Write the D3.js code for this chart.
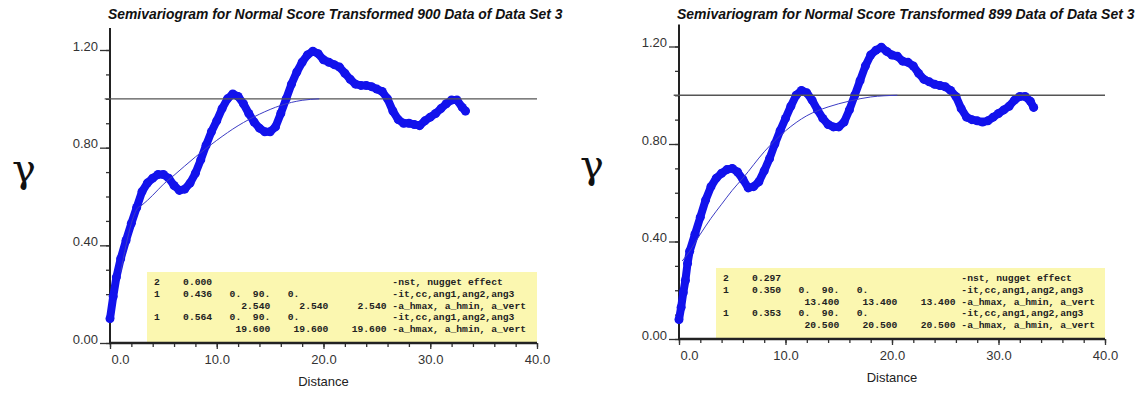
<!DOCTYPE html>
<html>
<head>
<meta charset="utf-8">
<script src="https://cdn.jsdelivr.net/npm/d3@7"></script>
<style>
body { margin: 0; background: #fff; }
</style>
</head>
<body>
<script>
var expLeft = [[0,0.10],[0.3,0.19],[0.6,0.27],[1,0.345],[1.5,0.42],[2,0.49],[2.5,0.555],[3,0.62],[3.5,0.655],[4,0.675],
  [4.5,0.69],[5,0.69],[5.5,0.675],[6,0.645],[6.5,0.625],[7,0.63],[7.5,0.655],[8,0.695],[8.5,0.75],[9,0.81],
  [9.5,0.865],[10,0.91],[10.5,0.96],[11,1.00],[11.5,1.02],[12,1.01],[12.5,0.98],[13,0.94],[13.5,0.905],[14,0.88],
  [14.5,0.865],[15,0.865],[15.5,0.885],[16,0.94],[16.5,1.00],[17,1.06],[17.5,1.11],[18,1.15],[18.5,1.18],[19,1.195],
  [19.5,1.185],[20,1.16],[20.5,1.15],[21,1.14],[21.5,1.13],[22,1.105],[22.5,1.08],[23,1.06],[23.5,1.055],[24,1.055],
  [24.5,1.05],[25,1.04],[25.5,1.03],[26,1.00],[26.5,0.95],[27,0.915],[27.5,0.90],[28,0.90],[28.5,0.895],[29,0.89],
  [29.5,0.91],[30,0.925],[30.5,0.94],[31,0.96],[31.5,0.98],[32,0.995],[32.5,0.995],[33,0.965],[33.3,0.95]];

var expRight = [[0,0.08],[0.2,0.13],[0.4,0.19],[0.6,0.24],[0.8,0.31],[1,0.36],[1.5,0.43],[2,0.50],[2.5,0.57],[3,0.625],
  [3.5,0.66],[4,0.68],[4.5,0.695],[5,0.70],[5.5,0.685],[6,0.655],[6.5,0.62],[7,0.625],[7.5,0.645],[8,0.69],
  [8.5,0.74],[9,0.80],[9.5,0.855],[10,0.905],[10.5,0.955],[11,1.00],[11.5,1.02],[12,1.01],[12.5,0.98],[13,0.94],
  [13.5,0.905],[14,0.88],[14.5,0.87],[15,0.87],[15.5,0.89],[16,0.94],[16.5,1.00],[17,1.06],[17.5,1.12],[18,1.165],
  [18.5,1.185],[19,1.197],[19.5,1.18],[20,1.165],[20.5,1.16],[21,1.14],[21.5,1.135],[22,1.12],[22.5,1.09],[23,1.065],
  [23.5,1.055],[24,1.045],[24.5,1.04],[25,1.035],[25.5,1.02],[26,0.995],[26.5,0.945],[27,0.91],[27.5,0.90],[28,0.895],
  [28.5,0.89],[29,0.895],[29.5,0.91],[30,0.925],[30.5,0.94],[31,0.955],[31.5,0.98],[32,0.995],[32.5,0.995],[33,0.975],
  [33.3,0.95]];

// fitted model curves
var modelLeft = [[1,0.29],[1.5,0.40],[2,0.49],[2.54,0.55],[3,0.565],[4,0.605],[5,0.65],[6,0.687],
  [8,0.762],[10,0.83],[12,0.89],[14,0.937],[16,0.973],[18,0.994],[19.6,1.0]];
var modelRight = [[0.3,0.32],[1,0.36],[2,0.43],[3,0.495],[4,0.553],[5,0.61],[6,0.66],[8,0.768],[10,0.854],[12,0.916],
  [14,0.952],[16,0.976],[18,0.993],[20.5,1.0]];

var sill = 1.0;

// model parameter tables: nst, nugget, then per structure it, cc, angles, ranges
var nstLeft = 2, nuggetLeft = 0.000;
var itLeft = [1, 1], ccLeft = [0.436, 0.564], rangeLeft = [2.540, 19.600];
var nstRight = 2, nuggetRight = 0.297;
var itRight = [1, 1], ccRight = [0.350, 0.353], rangeRight = [13.400, 20.500];
var angles = ["0.", "90.", "0."];

var xMajor = [0, 10, 20, 30, 40];
var xLabels = ["0.0", "10.0", "20.0", "30.0", "40.0"];
var yMajor = [0, 0.4, 0.8, 1.2];
var yLabels = ["0.00", "0.40", "0.80", "1.20"];

var titleLeft = "Semivariogram for Normal Score Transformed 900 Data of Data Set 3";
var titleRight = "Semivariogram for Normal Score Transformed 899 Data of Data Set 3";

var svg = d3.select("body").append("svg")
  .attr("width", 1146)
  .attr("height", 394);

// put strings into a fixed-width line
function fixedLine(fields) {
  var s = "";
  fields.forEach(function(f) {
    var col = f[2] ? f[0] - f[1].length + 1 : f[0]; // f[2]: right aligned at col
    while (s.length < col) s += " ";
    s += f[1];
  });
  return s;
}

function tableLines(nst, nugget, it, cc, ranges) {
  var lines = [];
  lines.push(fixedLine([[0, String(nst)], [9, nugget.toFixed(3), true], [41, "-nst, nugget effect"]]));
  for (var i = 0; i < it.length; i++) {
    lines.push(fixedLine([[0, String(it[i])], [9, cc[i].toFixed(3), true],
      [13, angles[0]], [17, angles[1]], [23, angles[2]], [41, "-it,cc,ang1,ang2,ang3"]]));
    var r = ranges[i].toFixed(3);
    lines.push(fixedLine([[19, r, true], [29, r, true], [39, r, true], [41, "-a_hmax, a_hmin, a_vert"]]));
  }
  return lines;
}

function drawPanel(p) {
  var g = svg.append("g");

  var x = d3.scaleLinear().domain([0, 40]).range([p.left, p.right]);
  var y = d3.scaleLinear().domain([0, 1.2]).range([p.bottom, p.top]);

  // title
  var t = g.append("text")
    .attr("x", p.left - 2)
    .attr("y", 19)
    .style("font-family", "Liberation Sans, Arial, sans-serif")
    .style("font-weight", "bold")
    .style("font-style", "italic")
    .style("font-size", "12px")
    .attr("fill", "#111")
    .text(p.title);
  var len = t.node().getComputedTextLength();
  t.style("font-size", (12 * p.titleWidth / len) + "px");

  // model parameter box
  var boxTop = p.bottom - 71;
  g.append("rect")
    .attr("x", p.left + 37)
    .attr("y", boxTop)
    .attr("width", x(40) - p.left - 37)
    .attr("height", 71)
    .attr("fill", "#fbf7b0");

  g.append("g").selectAll("text")
    .data(p.lines)
    .enter()
    .append("text")
    .attr("x", p.left + 44)
    .attr("y", function(d, i) { return boxTop + 13 + i * 11.8; })
    .style("white-space", "pre")
    .style("font-family", "Liberation Mono, Courier New, monospace")
    .style("font-weight", "bold")
    .style("font-size", "9.7px")
    .attr("fill", "#222")
    .text(function(d) { return d; });

  // y axis: minor ticks, then labelled ticks
  g.append("g")
    .attr("transform", "translate(" + p.left + ",0)")
    .call(d3.axisLeft(y).tickValues(d3.range(0, 1.25, 0.1)).tickSize(4).tickSizeOuter(0).tickFormat(""))
    .call(function(a) { a.select(".domain").remove(); });

  var ya = g.append("g")
    .attr("transform", "translate(" + p.left + ",0)")
    .call(d3.axisLeft(y).tickValues(yMajor).tickSize(10).tickSizeOuter(0).tickPadding(2)
      .tickFormat(function(d, i) { return yLabels[i]; }));
  ya.select(".domain").remove();
  ya.selectAll("text")
    .attr("dy", "0")
    .style("font-family", "Liberation Sans, Arial, sans-serif")
    .style("font-size", "13px")
    .attr("fill", "#333");
  g.selectAll(".tick line").attr("stroke", "#333").attr("stroke-width", 1.3);

  g.append("line")
    .attr("x1", p.left).attr("x2", p.left)
    .attr("y1", y(0)).attr("y2", y(1.29))
    .attr("stroke", "#222")
    .attr("stroke-width", 2);

  // x axis
  g.append("g")
    .attr("transform", "translate(0," + p.bottom + ")")
    .call(d3.axisBottom(x).tickValues(d3.range(0, 41, 2)).tickSize(4).tickSizeOuter(0).tickFormat(""))
    .call(function(a) { a.select(".domain").remove(); a.selectAll("line").attr("stroke", "#333").attr("stroke-width", 1.3); });

  var xa = g.append("g")
    .attr("transform", "translate(0," + p.bottom + ")")
    .call(d3.axisBottom(x).tickValues(xMajor).tickSize(6).tickSizeOuter(0).tickPadding(6)
      .tickFormat(function(d, i) { return xLabels[i]; }));
  xa.select(".domain").remove();
  xa.selectAll("line").attr("stroke", "#333").attr("stroke-width", 1.3);
  xa.selectAll("text")
    .style("font-family", "Liberation Sans, Arial, sans-serif")
    .style("font-size", "13px")
    .attr("fill", "#333")
    .attr("text-anchor", function(d) { return d === 0 ? "start" : "middle"; })
    .attr("x", function(d) { return d === 0 ? 1 : 0; });

  g.append("line")
    .attr("x1", p.left - 1).attr("x2", x(40))
    .attr("y1", p.bottom).attr("y2", p.bottom)
    .attr("stroke", "#222")
    .attr("stroke-width", 2.5);

  // axis titles
  g.append("text")
    .attr("x", (p.left + p.right) / 2)
    .attr("y", p.bottom + 43)
    .attr("text-anchor", "middle")
    .style("font-family", "Liberation Sans, Arial, sans-serif")
    .style("font-size", "13px")
    .attr("fill", "#222")
    .text("Distance");

  g.append("text")
    .attr("x", p.gammaX)
    .attr("y", p.gammaY)
    .attr("text-anchor", "middle")
    .style("font-family", "DejaVu Serif, Liberation Serif, serif")
    .style("font-size", "40px")
    .attr("fill", "#111")
    .text("\u03b3");

  // experimental points
  var line = d3.line()
    .x(function(d) { return x(d[0]); })
    .y(function(d) { return y(d[1]); });

  g.append("path")
    .datum(p.exp)
    .attr("d", line)
    .attr("fill", "none")
    .attr("stroke", "#1212ec")
    .attr("stroke-width", 8)
    .attr("stroke-linejoin", "round")
    .attr("stroke-linecap", "round");

  g.append("g").selectAll("circle")
    .data(p.exp)
    .enter()
    .append("circle")
    .attr("cx", function(d) { return x(d[0]); })
    .attr("cy", function(d) { return y(d[1]); })
    .attr("r", 4.5)
    .attr("fill", "#1212ec");

  // sill
  g.append("line")
    .attr("x1", x(-0.5)).attr("x2", x(40))
    .attr("y1", y(sill)).attr("y2", y(sill))
    .attr("stroke", "#555")
    .attr("stroke-width", 1.3);

  // model
  g.append("path")
    .datum(p.model)
    .attr("d", line.curve(d3.curveMonotoneX))
    .attr("fill", "none")
    .attr("stroke", "#3c3cc4")
    .attr("stroke-width", 1);
}

drawPanel({
  left: 110, right: 537, bottom: 343, top: 50,
  title: titleLeft, titleWidth: 455,
  gammaX: 24, gammaY: 182,
  exp: expLeft, model: modelLeft,
  lines: tableLines(nstLeft, nuggetLeft, itLeft, ccLeft, rangeLeft)
});

drawPanel({
  left: 679, right: 1105, bottom: 339, top: 46.5,
  title: titleRight, titleWidth: 458,
  gammaX: 592, gammaY: 178,
  exp: expRight, model: modelRight,
  lines: tableLines(nstRight, nuggetRight, itRight, ccRight, rangeRight)
});
</script>
</body>
</html>
